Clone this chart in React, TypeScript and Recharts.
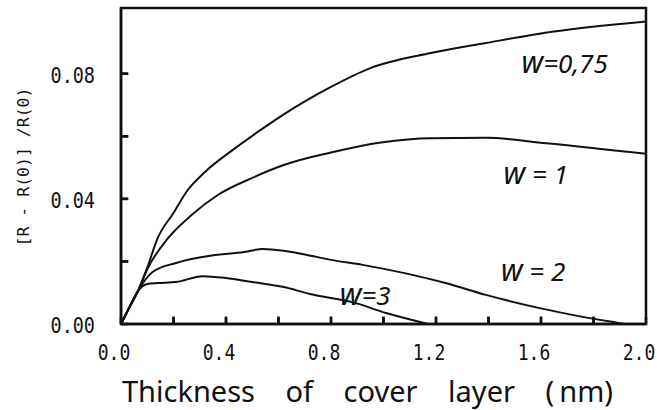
import React from 'react';
import { LineChart, Line, XAxis, YAxis, ReferenceDot, ReferenceArea, ReferenceLine } from 'recharts';

// tick values
const xTicks = [0, 0.2, 0.4, 0.6, 0.8, 1.0, 1.2, 1.4, 1.6, 1.8, 2.0];
const yTicks = [0, 0.02, 0.04, 0.06, 0.08];
const xMax = 2;
const yMax = 0.101;

// w = 0,75
const thick075 = [0, 0.03, 0.065, 0.1, 0.14, 0.2, 0.255, 0.32, 0.435, 0.57, 0.62, 0.8, 0.95, 1.18, 1.39, 1.65, 2.0];
const resp075 = [0, 0.005, 0.0106, 0.018, 0.0275, 0.0355, 0.0429, 0.0486, 0.0562, 0.0642, 0.067, 0.0758, 0.0818, 0.0866, 0.0898, 0.0935, 0.0967];

// w = 1
const thick1 = [0, 0.03, 0.065, 0.1, 0.18, 0.27, 0.37, 0.5, 0.62, 0.8, 0.99, 1.18, 1.39, 1.62, 2.0];
const resp1 = [0, 0.005, 0.0106, 0.0175, 0.0275, 0.0349, 0.0413, 0.0467, 0.0508, 0.0548, 0.058, 0.0594, 0.0595, 0.0578, 0.0544];

// w = 2
const thick2 = [0, 0.03, 0.065, 0.12, 0.21, 0.34, 0.47, 0.54, 0.62, 0.69, 0.8, 0.92, 1.24, 1.39, 1.6, 1.87, 1.93, 2.0];
const resp2 = [0, 0.005, 0.0106, 0.0166, 0.0195, 0.0218, 0.023, 0.024, 0.0234, 0.0224, 0.0205, 0.0189, 0.013, 0.0093, 0.005, 0.0007, 0, 0];

// w = 3
const thick3 = [0, 0.03, 0.065, 0.1, 0.14, 0.21, 0.31, 0.4, 0.5, 0.62, 0.72, 0.8, 0.88, 1.01, 1.17];
const resp3 = [0, 0.005, 0.0106, 0.0128, 0.0131, 0.0134, 0.0153, 0.0147, 0.0134, 0.0118, 0.0096, 0.0083, 0.007, 0.0035, 0];

// curve labels
const labelW = ['w', 'w', 'w', 'w'];
const labelRest = ['=0,75', ' = 1', ' = 2', '=3'];
const labelX = [1.69, 1.58, 1.57, 0.93];
const labelY = [0.0835, 0.048, 0.017, 0.0093];

// inward tick mark lengths, in data units
const xTickLen = 0.0024;
const yTickLen = 0.028;

const zip = (xs: number[], ys: number[]) => xs.map((x, i) => ({ x, y: ys[i] }));

const series = [
  { key: 'w075', data: zip(thick075, resp075) },
  { key: 'w1', data: zip(thick1, resp1) },
  { key: 'w2', data: zip(thick2, resp2) },
  { key: 'w3', data: zip(thick3, resp3) },
];

const INK = '#111';

const XTick = (p: any) => {
  const { x, y, payload } = p;
  const v: number = payload.value;
  const show = Math.round(v * 10) % 4 === 0;
  return (
    <g>
      <path d={`M${x},${y}V${y - 7}`} stroke={INK} strokeWidth={2.5} fill="none" />
      {show && (
        <text
          transform={`translate(${x - 7} ${y + 36}) scale(0.86 1)`}
          textAnchor="middle"
          fontFamily="DejaVu Sans Mono"
          fontSize={21}
          fill={INK}
        >
          {v.toFixed(1)}
        </text>
      )}
    </g>
  );
};

const YTick = (p: any) => {
  const { x, y, payload } = p;
  const v: number = payload.value;
  const show = Math.round(v * 100) % 4 === 0;
  return (
    <g>
      <path d={`M${x},${y}H${x + 7}`} stroke={INK} strokeWidth={2.5} fill="none" />
      {show && (
        <text
          transform={`translate(${x - 26} ${y + 9}) scale(0.88 1)`}
          textAnchor="end"
          fontFamily="DejaVu Sans Mono"
          fontSize={21}
          fill={INK}
        >
          {v.toFixed(2)}
        </text>
      )}
    </g>
  );
};

export default function App() {
  return (
    <div style={{ position: 'absolute', left: 0, top: 0, background: '#fff' }}>
      <LineChart width={657} height={410} margin={{ top: 8, right: 11, bottom: 0, left: 0 }}>
        <XAxis
          type="number"
          dataKey="x"
          domain={[0, xMax]}
          ticks={xTicks}
          interval={0}
          height={86}
          tickSize={0}
          tickMargin={0}
          axisLine={{ stroke: INK, strokeWidth: 2.5 }}
          tickLine={false}
          tick={<XTick />}
          label={{
            content: (p: any) => {
              const vb = p.viewBox;
              return (
                <text
                  x={vb.x + 1}
                  y={vb.y + vb.height - 8}
                  textAnchor="start"
                  fontFamily="Noto Sans"
                  fontSize={29}
                  fill={INK}
                  style={{ wordSpacing: '23px' }}
                >
                  Thickness of cover layer (<tspan dx={5}>nm)</tspan>
                </text>
              );
            },
          }}
        />
        <YAxis
          type="number"
          domain={[0, yMax]}
          ticks={yTicks}
          interval={0}
          width={121}
          tickSize={0}
          tickMargin={0}
          axisLine={{ stroke: INK, strokeWidth: 2.5 }}
          tickLine={false}
          tick={<YTick />}
          label={{
            content: (p: any) => {
              const vb = p.viewBox;
              const cx = vb.x + 23;
              const cy = vb.y + vb.height / 2 + 1;
              return (
                <text
                  x={cx}
                  y={cy + 6}
                  transform={`rotate(-90 ${cx} ${cy})`}
                  textAnchor="middle"
                  fontFamily="DejaVu Sans Mono"
                  fontSize={16.5}
                  fill={INK}
                >
                  [R - R(0)] /R(0)
                </text>
              );
            },
          }}
        />
        <ReferenceArea x1={0} x2={xMax} y1={0} y2={yMax} fill="none" stroke={INK} strokeWidth={2.5} ifOverflow="visible" />
        {xTicks.slice(1, -1).map((t) => (
          <ReferenceLine
            key={'xt' + t}
            segment={[{ x: t, y: 0 }, { x: t, y: xTickLen }]}
            stroke={INK}
            strokeWidth={2.5}
            ifOverflow="visible"
          />
        ))}
        {yTicks.slice(1).map((t) => (
          <ReferenceLine
            key={'yt' + t}
            segment={[{ x: 0, y: t }, { x: yTickLen, y: t }]}
            stroke={INK}
            strokeWidth={2.5}
            ifOverflow="visible"
          />
        ))}
        {series.map((s) => (
          <Line
            key={s.key}
            data={s.data}
            dataKey="y"
            type="monotone"
            stroke={INK}
            strokeWidth={2}
            dot={false}
            isAnimationActive={false}
          />
        ))}
        {labelX.map((lx, i) => (
          <ReferenceDot
            key={i}
            x={lx}
            y={labelY[i]}
            r={0}
            fill="none"
            stroke="none"
            label={{
              content: (p: any) => {
                const vb = p.viewBox;
                const cx = vb.x + vb.width / 2;
                const cy = vb.y + vb.height / 2;
                return (
                  <text
                    x={cx}
                    y={cy + 10}
                    textAnchor="middle"
                    fontFamily="Noto Sans"
                    fontStyle="italic"
                    fill={INK}
                    style={{ whiteSpace: 'pre' }}
                  >
                    <tspan fontSize={30}>{labelW[i]}</tspan>
                    <tspan fontSize={26}>{labelRest[i]}</tspan>
                  </text>
                );
              },
            }}
          />
        ))}
      </LineChart>
    </div>
  );
}
